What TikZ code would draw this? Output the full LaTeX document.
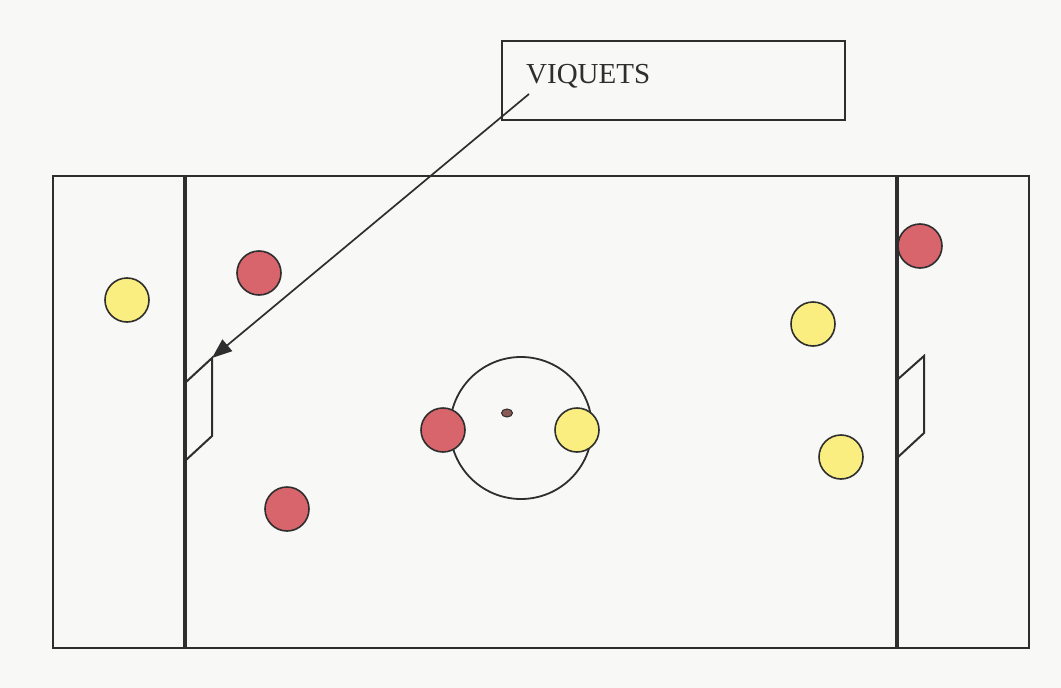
\documentclass[tikz,border=0pt]{standalone}
\usepackage{fontspec}
\setmainfont{Liberation Serif}
\usetikzlibrary{arrows.meta,shapes.geometric}
\definecolor{bg}{HTML}{F8F8F6}
\definecolor{redp}{HTML}{D8646C}
\definecolor{yelp}{HTML}{FAEE80}
\definecolor{ink}{HTML}{2E2E2E}
\definecolor{spotc}{HTML}{8A5A55}
\tikzset{
  field/.style={draw=ink, line width=2.2pt},
  sideline/.style={draw=ink, line width=3.2pt},
  goalpost/.style={draw=ink, line width=2pt, line join=miter},
  redball/.style={circle, draw=ink, line width=1.6pt, fill=redp, minimum size=44pt, inner sep=0pt},
  yelball/.style={circle, draw=ink, line width=1.6pt, fill=yelp, minimum size=44pt, inner sep=0pt},
  labelbox/.style={draw=ink, line width=2pt},
}
\begin{document}
\begin{tikzpicture}[x=1pt, y=-1pt]
\fill[bg] (0,0) rectangle (1061,688);
\useasboundingbox (0,0) rectangle (1061,688);
% field
\draw[field] (53,176) rectangle (1029,648);
\draw[sideline] (185,176) -- (185,648);
\draw[sideline] (897,176) -- (897,648);
% goals
\draw[goalpost] (186,382) -- (212,358) -- (212,436) -- (186,460);
\draw[goalpost] (897,380) -- (924,356) -- (924,433) -- (897,458);
% centre circle and spot
\node[circle, draw=ink, line width=1.8pt, minimum size=142pt, inner sep=0pt] (cc) at (521,428) {};
\node[ellipse, draw=ink, line width=1pt, fill=spotc, minimum width=11pt, minimum height=8pt, inner sep=0pt] (spot) at (507,413) {};
% players
\node[yelball] (y1) at (127,300) {};
\node[redball] (r1) at (259,273) {};
\node[redball] (r2) at (287,509) {};
\node[redball] (r3) at (443,430) {};
\node[yelball] (y2) at (577,430) {};
\node[yelball] (y3) at (813,324) {};
\node[yelball] (y4) at (841,457) {};
\node[redball] (r4) at (920,246) {};
% label
\draw[labelbox] (502,41) rectangle (845,120);
\node[anchor=base west, inner sep=0pt, font=\fontsize{29}{31}\selectfont, text=ink] (lab) at (526,83) {VIQUETS};
\coordinate (astart) at (529,94);
\coordinate (atip) at (212,358);
\draw[draw=ink, line width=1.7pt, -{Triangle[length=20pt, width=15pt]}] (astart) -- (atip);
\end{tikzpicture}
\end{document}
